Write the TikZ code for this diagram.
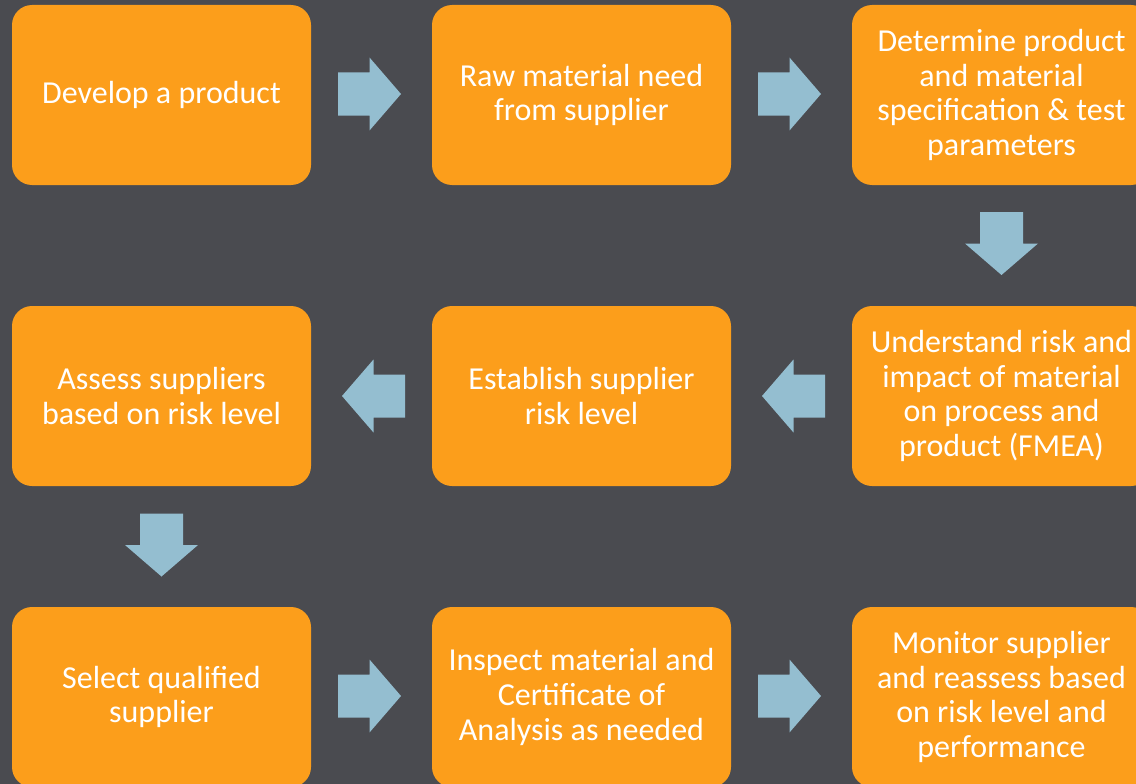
\documentclass[tikz,border=0pt]{standalone}
\usepackage{fontspec}
\setmainfont{Carlito}
\usetikzlibrary{calc}
\definecolor{bggray}{HTML}{4A4B50}
\definecolor{boxorange}{HTML}{FC9E1B}
\definecolor{arrowblue}{HTML}{94BED0}
\tikzset{
  stepbox/.style={rectangle, rounded corners=20pt, fill=boxorange, draw=none,
    minimum width=299pt, minimum height=180pt, inner sep=0pt,
    text=white, align=center, font=\fontsize{32}{34.8}\selectfont},
  blockarr/.pic={\fill[arrowblue] (-31.5,-21.5) -- (0,-21.5) -- (0,-36.5) -- (31.5,0)
      -- (0,36.5) -- (0,21.5) -- (-31.5,21.5) -- cycle;}
}
\begin{document}
\begin{tikzpicture}[x=1pt,y=1pt]
\useasboundingbox (0,0) rectangle (1136,-784);
\clip (0,0) rectangle (1136,-784);
\fill[bggray] (0,0) rectangle (1136,-784);
% row 1
\node[stepbox] (b1) at (161.5,-95) {Develop a product};
\node[stepbox] (b2) at (581.5,-95) {Raw material need\\from supplier};
\node[stepbox] (b3) at (1001.5,-95) {Determine product\\and material\\specification \& test\\parameters};
% row 2
\node[stepbox] (b4) at (1001.5,-396) {Understand risk and\\impact of material\\on process and\\product (FMEA)};
\node[stepbox] (b5) at (581.5,-396) {Establish supplier\\risk level};
\node[stepbox] (b6) at (161.5,-396) {Assess suppliers\\based on risk level};
% row 3
\node[stepbox] (b7) at (161.5,-697) {Select qualified\\supplier};
\node[stepbox] (b8) at (581.5,-697) {Inspect material and\\Certificate of\\Analysis as needed};
\node[stepbox] (b9) at (1001.5,-697) {Monitor supplier\\and reassess based\\on risk level and\\performance};
% arrows
\pic at ($(b1.east)!0.5!(b2.west)+(-2,1)$) {blockarr};
\pic at ($(b2.east)!0.5!(b3.west)+(-2,1)$) {blockarr};
\pic[rotate=-90] at ($(b3.south)!0.5!(b4.north)+(0,2)$) {blockarr};
\pic[rotate=180] at ($(b4.west)!0.5!(b5.east)+(2,0)$) {blockarr};
\pic[rotate=180] at ($(b5.west)!0.5!(b6.east)+(2,0)$) {blockarr};
\pic[rotate=-90] at ($(b6.south)!0.5!(b7.north)+(0,1.5)$) {blockarr};
\pic at ($(b7.east)!0.5!(b8.west)+(-2,1)$) {blockarr};
\pic at ($(b8.east)!0.5!(b9.west)+(-2,1)$) {blockarr};
\end{tikzpicture}
\end{document}
